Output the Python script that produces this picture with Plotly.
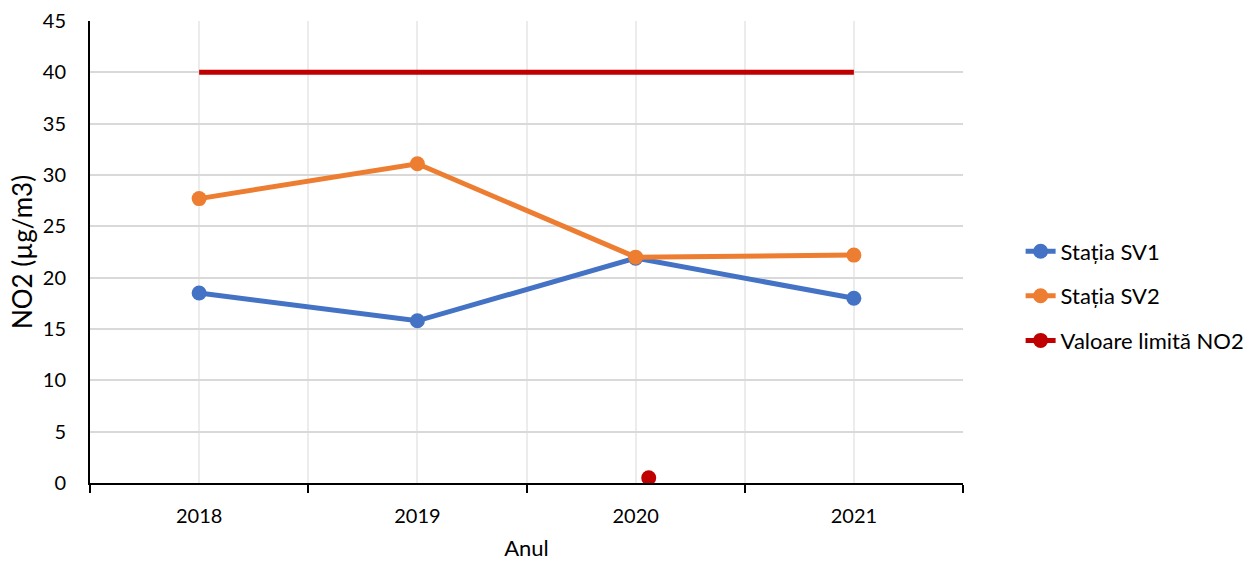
import plotly.graph_objects as go

# Annual NO2 concentrations (µg/m3) at the two monitoring stations
years = ["2018", "2019", "2020", "2021"]
sv1 = [18.5, 15.8, 21.9, 18.0]
sv2 = [27.7, 31.1, 22.0, 22.2]
limit_no2 = [40, 40, 40, 40]

# Stray limit-value point drawn near the 2020 category, just above the axis
stray_x = [2.06]
stray_y = [0.5]

BLUE = "#4472C4"
ORANGE = "#ED7D31"
RED = "#C00000"
FONT = "Lato"

xpos = list(range(len(years)))

fig = go.Figure()

fig.add_trace(go.Scatter(
    x=xpos, y=limit_no2, mode="lines", name="Valoare limită NO2",
    line=dict(color=RED, width=5), showlegend=False, hoverinfo="skip",
))
fig.add_trace(go.Scatter(
    x=xpos, y=sv1, mode="lines+markers", name="Stația SV1",
    line=dict(color=BLUE, width=5), marker=dict(color=BLUE, size=15),
    legendgroup="g1",
))
fig.add_trace(go.Scatter(
    x=xpos, y=sv2, mode="lines+markers", name="Stația SV2",
    line=dict(color=ORANGE, width=5), marker=dict(color=ORANGE, size=15),
    legendgroup="g2",
))
fig.add_trace(go.Scatter(
    x=stray_x, y=stray_y, mode="lines+markers", name="Valoare limită NO2",
    line=dict(color=RED, width=5), marker=dict(color=RED, size=15),
    legendgroup="g3",
))

boundaries = [i - 0.5 for i in range(len(years) + 1)]

fig.update_layout(
    width=1248, height=561,
    margin=dict(l=90, r=285, t=21, b=78, autoexpand=False),
    paper_bgcolor="white", plot_bgcolor="white",
    font=dict(family=FONT, size=20, color="#000000"),
    showlegend=True,
    legend=dict(
        x=1.066, xanchor="left", y=0.405, yanchor="middle",
        font=dict(family=FONT, size=22, color="#000000"),
        tracegroupgap=13, bgcolor="rgba(0,0,0,0)",
    ),
    xaxis=dict(
        range=[-0.5, len(years) - 0.5], automargin=False,
        tickmode="array", tickvals=xpos, ticktext=years,
        ticks="", showgrid=True, gridcolor="#ececec", gridwidth=1.5,
        showline=True, linecolor="#000000", linewidth=2,
        zeroline=False, ticklabelstandoff=14,
        tickfont=dict(family=FONT, size=20),
        minor=dict(tickmode="array", tickvals=boundaries, ticks="outside",
                   ticklen=8, tickwidth=2, tickcolor="#000000",
                   showgrid=True, gridcolor="#ececec", gridwidth=1.5),
        title=dict(text="Anul", font=dict(family=FONT, size=22), standoff=16),
    ),
    yaxis=dict(
        range=[0, 45], dtick=5, tick0=0, automargin=False,
        showgrid=True, gridcolor="#d9d9d9", gridwidth=1.5,
        showline=True, linecolor="#000000", linewidth=2,
        zeroline=False, ticks="", ticklabelstandoff=18,
        tickfont=dict(family=FONT, size=20),
        title=dict(text="NO2 (µg/m3)", font=dict(family=FONT, size=26), standoff=3),
    ),
)

fig.write_html("out.html")
